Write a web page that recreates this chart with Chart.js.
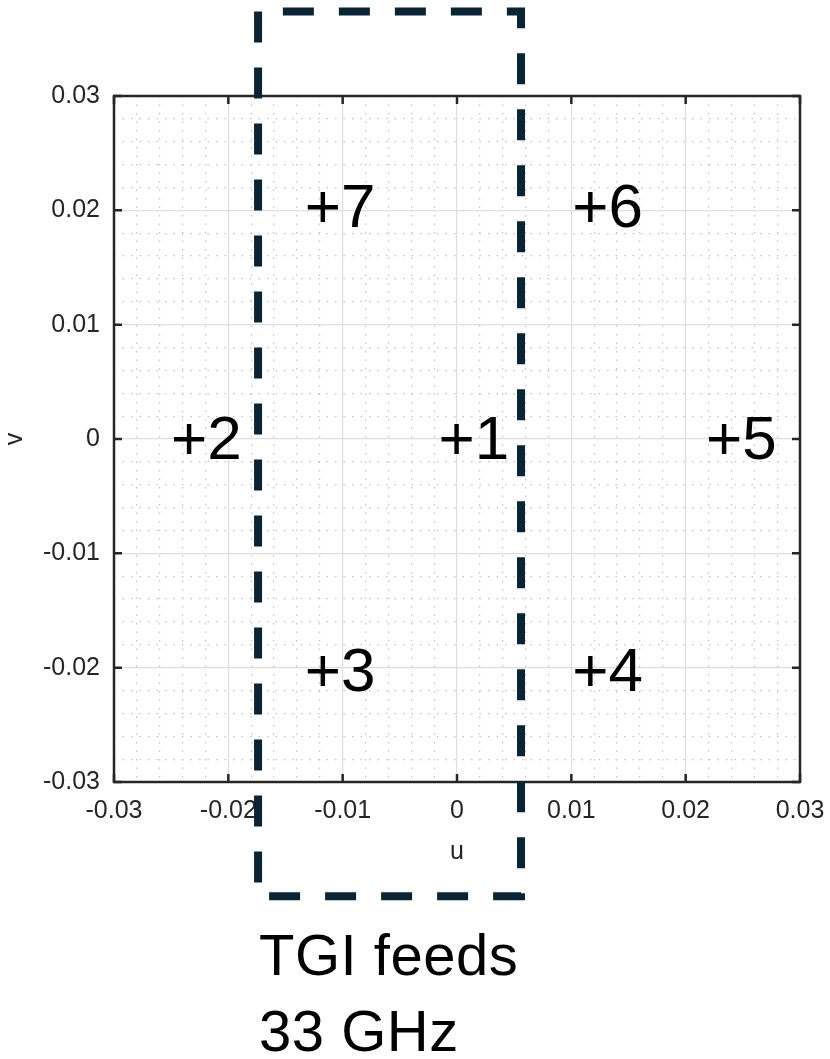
<!DOCTYPE html>
<html>
<head>
<meta charset="utf-8">
<script src="https://cdn.jsdelivr.net/npm/chart.js@4.4.1/dist/chart.umd.min.js"></script>
<style>
  html, body { margin: 0; padding: 0; background: #fff; }
  #wrap { position: relative; width: 830px; height: 1059px; }
  #caption {
    position: absolute; left: 259px; top: 917px;
    font-family: "Liberation Sans", Arial, sans-serif;
    font-size: 58px; line-height: 76px; color: #000;
    letter-spacing: 0.5px;
  }
</style>
</head>
<body>
<div id="wrap">
  <canvas id="feeds" width="830" height="1059"></canvas>
  <div id="caption">TGI feeds<br>33 GHz</div>
</div>
<script>
// feed offsets in the u/v plane
const feedLabels = ['+1', '+2', '+3', '+4', '+5', '+6', '+7'];
const feedU = [0, -0.0234, -0.0117, 0.0117, 0.0234, 0.0117, -0.0117];
const feedV = [0, 0, -0.0203, -0.0203, 0, 0.0203, 0.0203];

const axisMin = -0.03;
const axisMax = 0.03;
const minorStep = 0.002;

// dashed outline around the TGI feeds (u range, v range)
const boxU = [-0.0174, 0.0056];
const boxV = [-0.0400, 0.0374];

const FONT = '"Liberation Sans", Arial, sans-serif';
const AXIS_COLOR = '#262626';

const isMajor = v => Math.abs(v * 100 - Math.round(v * 100)) < 1e-6;
const fmtTick = v => {
  const r = Math.round(v * 100);
  return r === 0 ? '0' : (r / 100).toFixed(2);
};

const points = feedU.map((u, i) => ({x: u, y: feedV[i]}));

const framePlugin = {
  id: 'frame',
  afterDraw(chart) {
    const {ctx, chartArea: a, scales: {x, y}} = chart;
    ctx.save();

    // axes box + inward ticks
    ctx.strokeStyle = AXIS_COLOR;
    ctx.lineWidth = 2.5;
    ctx.strokeRect(a.left, a.top, a.width, a.height);
    ctx.beginPath();
    x.ticks.forEach(t => {
      if (!isMajor(t.value)) return;
      const px = x.getPixelForValue(t.value);
      ctx.moveTo(px, a.bottom); ctx.lineTo(px, a.bottom - 8);
      ctx.moveTo(px, a.top); ctx.lineTo(px, a.top + 8);
    });
    y.ticks.forEach(t => {
      if (!isMajor(t.value)) return;
      const py = y.getPixelForValue(t.value);
      ctx.moveTo(a.left, py); ctx.lineTo(a.left + 8, py);
      ctx.moveTo(a.right, py); ctx.lineTo(a.right - 8, py);
    });
    ctx.stroke();

    // feed labels, "+" glyph centred on the feed position
    ctx.font = '62px ' + FONT;
    ctx.fillStyle = '#000';
    ctx.textBaseline = 'alphabetic';
    ctx.textAlign = 'left';
    const m = ctx.measureText('+');
    const dx = (m.actualBoundingBoxRight - m.actualBoundingBoxLeft) / 2;
    const dy = (m.actualBoundingBoxAscent - m.actualBoundingBoxDescent) / 2;
    chart.getDatasetMeta(0).data.forEach((pt, i) => {
      ctx.fillText(feedLabels[i], pt.x - dx, pt.y + dy);
    });

    // dashed outline
    const x0 = x.getPixelForValue(boxU[0]), x1 = x.getPixelForValue(boxU[1]);
    const y0 = y.getPixelForValue(boxV[1]), y1 = y.getPixelForValue(boxV[0]);
    ctx.strokeStyle = '#0b2433';
    ctx.lineWidth = 8;
    ctx.setLineDash([31, 25]);
    ctx.beginPath();
    ctx.moveTo(x0, y0);
    ctx.lineTo(x0, y1);
    ctx.lineTo(x1, y1);
    ctx.lineTo(x1, y0);
    ctx.closePath();
    ctx.stroke();
    ctx.restore();
  }
};

const gridOpts = {
  drawTicks: false,
  color: c => (c.tick && isMajor(c.tick.value)) ? '#dedede' : '#c4c4c4',
  lineWidth: 1.2
};
const borderOpts = {
  display: false,
  dash: c => (c.tick && !isMajor(c.tick.value)) ? [1.5, 7] : []
};
const tickOpts = {
  stepSize: minorStep,
  autoSkip: false,
  maxRotation: 0,
  maxTicksLimit: 100,
  color: AXIS_COLOR,
  font: {family: FONT, size: 25},
  callback: v => isMajor(v) ? fmtTick(v) : ''
};

new Chart(document.getElementById('feeds'), {
  type: 'scatter',
  data: {
    datasets: [{
      data: points,
      pointRadius: 0,
      pointHoverRadius: 0
    }]
  },
  options: {
    responsive: false,
    animation: false,
    events: [],
    layout: {padding: {top: 96, right: 30, bottom: 177, left: 0}},
    plugins: {legend: {display: false}, tooltip: {enabled: false}},
    scales: {
      x: {
        type: 'linear',
        min: axisMin, max: axisMax,
        grid: gridOpts,
        border: borderOpts,
        ticks: Object.assign({}, tickOpts, {padding: 14}),
        title: {display: true, text: 'u', color: AXIS_COLOR,
                font: {family: FONT, size: 25}, padding: {top: 0, bottom: 15}},
        afterFit: s => { s.height = 100; s.paddingLeft = 0; s.paddingRight = 0; }
      },
      y: {
        type: 'linear',
        min: axisMin, max: axisMax,
        grid: gridOpts,
        border: borderOpts,
        ticks: Object.assign({}, tickOpts, {padding: 14}),
        title: {display: true, text: 'v', color: AXIS_COLOR,
                font: {family: FONT, size: 25}, padding: {top: 0, bottom: 0}},
        afterFit: s => { s.width = 114; s.paddingTop = 0; s.paddingBottom = 0; }
      }
    }
  },
  plugins: [framePlugin]
});
</script>
</body>
</html>
